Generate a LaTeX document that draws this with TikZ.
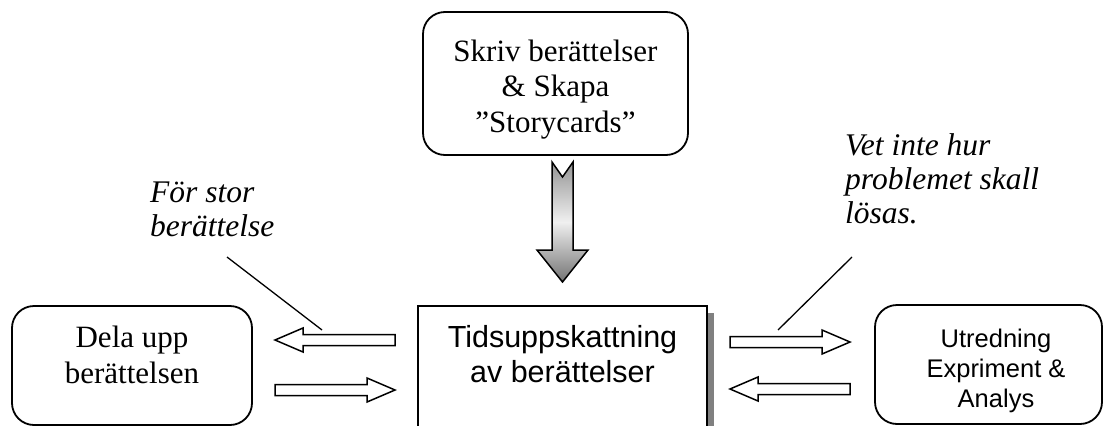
\documentclass[tikz,border=0pt]{standalone}
\usepackage{fontspec}
\setmainfont{Liberation Serif}
\newfontfamily\arialf{Liberation Sans}
\usetikzlibrary{calc,shadows}
\newcommand{\hblockarrow}[3]{%
  \pgfmathsetmacro\bsgn{(#2>#1)?1:-1}%
  \pgfmathsetmacro\bhb{#2-28*\bsgn}%
  \draw[blockarr] (#1,#3-5.5) -- (\bhb,#3-5.5) -- (\bhb,#3-12) -- (#2,#3)
     -- (\bhb,#3+12) -- (\bhb,#3+5.5) -- (#1,#3+5.5) -- cycle;}
\begin{document}
\begin{tikzpicture}[x=1pt,y=-1pt,
  roundbox/.style={draw, line width=1.8pt, rounded corners=22pt, inner sep=0pt, fill=white},
  sqbox/.style={draw, line width=1.8pt, inner sep=0pt, fill=white},
  serif/.style={font=\fontsize{31}{35.5}\selectfont, align=center, inner sep=0pt},
  arialtxt/.style={font=\arialf\fontsize{30.5}{35}\selectfont, align=center, inner sep=0pt},
  arialsmall/.style={font=\arialf\fontsize{25.5}{30}\selectfont, align=center, inner sep=0pt},
  itlabel/.style={font=\itshape\fontsize{31.5}{34}\selectfont, align=left, inner sep=0pt},
  pointer/.style={line width=1.3pt},
  blockarr/.style={draw, line width=1.5pt, fill=white, line join=miter},
  bigarr/.style={draw, line width=1.5pt, line join=miter, top color=black!42, bottom color=black!55, middle color=white!94!black}]
\useasboundingbox (0,0) rectangle (1104,426);

% top box
\node[roundbox, minimum width=265pt, minimum height=143pt] (skriv) at (555.5,83.5) {};
\node[serif, anchor=north] (skrivtxt) at (555.5,39.3) {Skriv berättelser\\\& Skapa\\”Storycards”};

% centre box
\node[sqbox, minimum width=289pt, minimum height=126pt,
      drop shadow={shadow xshift=7pt, shadow yshift=-7pt, fill=gray, opacity=1}] (tid) at (562.5,369) {};
\node[arialtxt, anchor=north] (tidtxt) at (562.5,325.2) {Tidsuppskattning\\av berättelser};

% left box
\node[roundbox, minimum width=240pt, minimum height=119pt] (dela) at (132,365.5) {};
\node[serif, anchor=north] (delatxt) at (132,325.8) {Dela upp\\berättelsen};

% right box
\node[roundbox, minimum width=227pt, minimum height=119pt] (utr) at (988.5,364.5) {};
\node[arialsmall, anchor=north] (utrtxt) at (996,328.7) {Utredning\\Expriment \&\\Analys};

% labels
\node[itlabel, anchor=north west] (forstor) at (150,181.5) {För stor\\berättelse};
\node[itlabel, anchor=north west] (vet) at (845,133) {Vet inte hur\\problemet skall\\lösas.};

\coordinate (f1) at (227,257); \coordinate (f2) at (322,330);
\draw[pointer] (f1) -- (f2);
\coordinate (v1) at (852,257); \coordinate (v2) at (778,330);
\draw[pointer] (v1) -- (v2);

% big down arrow
\draw[bigarr] (552,162) -- (562.5,177) -- (573,162) -- (573,250) -- (588,250)
   -- (562.5,282) -- (537,250) -- (552,250) -- cycle;

% block arrows
\hblockarrow{395}{275}{340}
\hblockarrow{275}{395}{390}
\hblockarrow{730}{850}{342}
\hblockarrow{850}{730}{389}
\end{tikzpicture}
\end{document}
